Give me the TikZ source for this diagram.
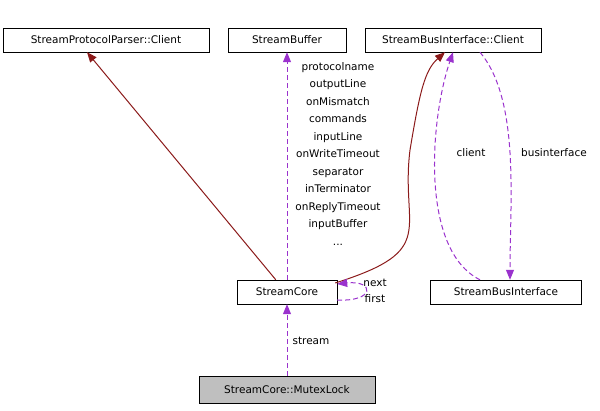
\documentclass[tikz,border=0pt]{standalone}
\usepackage{fontspec}
\setmainfont{DejaVu Sans}
\usetikzlibrary{arrows.meta}
\definecolor{usecol}{RGB}{154,50,205}
\definecolor{inhcol}{RGB}{139,26,26}
\begin{document}
\begin{tikzpicture}[x=1pt, y=-1pt, font=\fontsize{10.5}{17.5}\selectfont,
    cls/.style={draw=black, fill=white, minimum height=24pt, inner sep=0pt},
    inh/.style={draw=inhcol, line width=1pt, -{Triangle[width=8pt,length=10pt,fill=inhcol]}},
    use/.style={draw=usecol, line width=1pt, dash pattern=on 5pt off 3pt, -{Triangle[width=8pt,length=10pt,fill=usecol]}},
    lbl/.style={align=center, inner sep=1pt}]
\useasboundingbox (0,0) rectangle (600,411);

        \node[cls, minimum width=206pt] (ppc) at (106,40) {StreamProtocolParser::Client};
        \node[cls, minimum width=118pt] (buf) at (287,40) {StreamBuffer};
        \node[cls, minimum width=176pt] (bic) at (453,40) {StreamBusInterface::Client};
        \node[cls, minimum width=100pt] (core) at (287,292) {StreamCore};
        \node[cls, minimum width=151pt] (bus) at (506,292) {StreamBusInterface};
        \node[cls, minimum width=176pt, minimum height=27pt, fill=black!25] (lock) at (287,389.5) {StreamCore::MutexLock};

        % solid connectors
        \draw[inh] (core.north west) ++(39,0) coordinate (c1) -- (ppc.south -| 87,0);
        \draw[inh] (core.east) ++(-2,-9) coordinate (c2)
            .. controls (440,250) and (400,230) .. (410,150)
            .. controls (420,90) and (425,70) .. (bic.south -| 445,0);

        % dashed connectors
        \draw[use] (core) -- (buf);
        \node[lbl] (memb) at (338,154) {protocolname\\outputLine\\onMismatch\\commands\\inputLine\\onWriteTimeout\\separator\\inTerminator\\onReplyTimeout\\inputBuffer\\...};
        \draw[use] (bus.north -| 480,0) .. controls (420,250) and (430,120) .. (bic.south -| 453,0);
        \node[lbl] (cl) at (471,153) {client};
        \draw[use] (bic.south -| 480,0) .. controls (520,100) and (510,200) .. (bus.north -| 510,0);
        \node[lbl] (bi) at (554,153) {businterface};
        \draw[use] (core.east) ++(0,8) .. controls (375,302) and (375,280) .. (core.east |- 0,284);
        \node[lbl] (nx) at (375,283) {next};
        \node[lbl] (fs) at (375,299) {first};
        \draw[use] (lock) -- (core);
        \node[lbl] (st) at (311,341) {stream};

\end{tikzpicture}
\end{document}
